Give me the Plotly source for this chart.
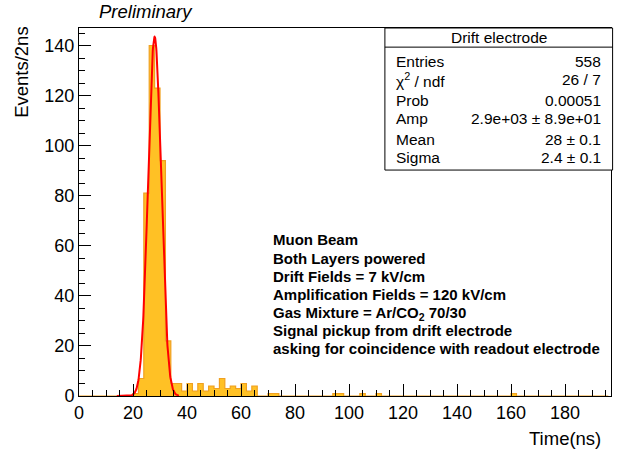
import numpy as np
import plotly.graph_objects as go

# ---- data ----
bin_width = 2
x_max = 196
# lower edges of the non-empty 2 ns bins and their counts
bin_low = [20, 22, 24, 26, 28, 30, 32, 34, 36, 38, 40, 42, 44, 46, 48, 50,
           52, 54, 56, 58, 60, 62, 64, 70, 72, 94, 96, 104, 110, 160]
bin_counts = [1, 7, 81, 140, 123, 94, 22, 5, 5, 2, 5, 2, 5, 2, 4, 3,
              7, 3, 4, 3, 5, 2, 4, 1, 1, 1, 1, 1, 1, 1]

# fitted gaussian (drawn function)
fit_peak = 143.5
fit_mean = 28.0
fit_sigma = 2.4
fit_range = [14, 37]

stats_title = "Drift electrode"
stats_labels = ["Entries", "χ<sup>2</sup> / ndf", "Prob", "Amp", "Mean", "Sigma"]
stats_values = ["558", "26 / 7", "0.00051", "2.9e+03 ± 8.9e+01", "28 ± 0.1", "2.4 ± 0.1"]

info_lines = [
    "Muon Beam",
    "Both Layers powered",
    "Drift Fields = 7 kV/cm",
    "Amplification Fields = 120 kV/cm",
    "Gas Mixture = Ar/CO<sub>2</sub> 70/30",
    "Signal pickup from drift electrode",
    "asking for coincidence with readout electrode",
]

# ---- build histogram ----
edges = np.arange(0, x_max + bin_width, bin_width)
counts = np.zeros(len(edges) - 1)
for lo, c in zip(bin_low, bin_counts):
    counts[int(lo // bin_width)] = c
step_x = edges
step_y = np.append(counts, counts[-1])
y_max = counts.max() * 1.05

fx = np.linspace(fit_range[0], fit_range[1], 300)
fy = fit_peak * np.exp(-0.5 * ((fx - fit_mean) / fit_sigma) ** 2)

FONT = "Liberation Sans, Arial, Helvetica, sans-serif"

fig = go.Figure()
fig.add_trace(go.Scatter(
    x=step_x, y=step_y, mode="lines", line_shape="hv",
    line=dict(color="#F0A020", width=1.2),
    fill="tozeroy", fillcolor="#FFC125", hoverinfo="skip", showlegend=False))
fig.add_trace(go.Scatter(
    x=fx, y=fy, mode="lines", line=dict(color="#FF0000", width=2),
    hoverinfo="skip", showlegend=False))

axis_common = dict(
    showline=True, linecolor="#000000", linewidth=1, mirror=True,
    ticks="inside", ticklen=12, tickwidth=1, tickcolor="#000000",
    showgrid=False, zeroline=False,
    tickfont=dict(family=FONT, size=18, color="#000000"),
    minor=dict(ticks="inside", ticklen=6, dtick=5, tickcolor="#000000", showgrid=False),
)
fig.update_xaxes(range=[0, x_max + 1], dtick=20, tick0=0, **axis_common)
fig.update_yaxes(range=[0, y_max], dtick=20, tick0=0, **axis_common)

annotations = []
# axis titles
annotations.append(dict(text="Time(ns)", x=0.985, y=-0.082, xref="paper", yref="paper",
                        xanchor="right", yanchor="top", showarrow=False,
                        font=dict(family=FONT, size=18.5, color="#000")))
annotations.append(dict(text="Events/2ns", x=-0.108, y=1.01, xref="paper", yref="paper",
                        xanchor="center", yanchor="top", textangle=-90, showarrow=False,
                        font=dict(family=FONT, size=18.5, color="#000")))
annotations.append(dict(text="<i>Preliminary</i>", x=0.033, y=1.0435, xref="paper", yref="paper",
                        xanchor="left", yanchor="middle", showarrow=False,
                        font=dict(family=FONT, size=18.5, color="#000")))

# stats box
box_x0, box_x1, box_y0, box_y1 = 0.575, 1.003, 0.614, 1.0
title_line_y = 0.948
fig.add_shape(type="rect", xref="paper", yref="paper", x0=box_x0, x1=box_x1,
              y0=box_y0, y1=box_y1, line=dict(color="#000", width=1), fillcolor="white",
              layer="above")
fig.add_shape(type="line", xref="paper", yref="paper", x0=box_x0, x1=box_x1,
              y0=title_line_y, y1=title_line_y, line=dict(color="#000", width=1), layer="above")
annotations.append(dict(text=stats_title, x=(box_x0 + box_x1) / 2, y=0.973, xref="paper",
                        yref="paper", xanchor="center", yanchor="middle", showarrow=False,
                        font=dict(family=FONT, size=15.5, color="#000")))
row_y = [0.910, 0.859, 0.804, 0.753, 0.698, 0.647]
for lab, val, yy in zip(stats_labels, stats_values, row_y):
    annotations.append(dict(text=lab, x=0.592, y=yy, xref="paper", yref="paper",
                            xanchor="left", yanchor="middle", showarrow=False,
                            font=dict(family=FONT, size=15.5, color="#000")))
    annotations.append(dict(text=val, x=0.985, y=yy, xref="paper", yref="paper",
                            xanchor="right", yanchor="middle", showarrow=False,
                            font=dict(family=FONT, size=15.5, color="#000")))

# info text block
info_y = [0.424, 0.375, 0.325, 0.276, 0.2255, 0.177, 0.128]
for line, yy in zip(info_lines, info_y):
    annotations.append(dict(text="<b>" + line + "</b>", x=0.360, y=yy, xref="paper",
                            yref="paper", xanchor="left", yanchor="middle", showarrow=False,
                            font=dict(family=FONT, size=15, color="#000")))

fig.update_layout(
    width=622, height=450,
    margin=dict(l=79, r=11, t=28, b=54),
    paper_bgcolor="white", plot_bgcolor="white",
    annotations=annotations,
    showlegend=False,
)

fig.write_html("out.html", config={"displayModeBar": False},
               post_script="document.body.style.margin='0';document.body.style.overflow='hidden';")
